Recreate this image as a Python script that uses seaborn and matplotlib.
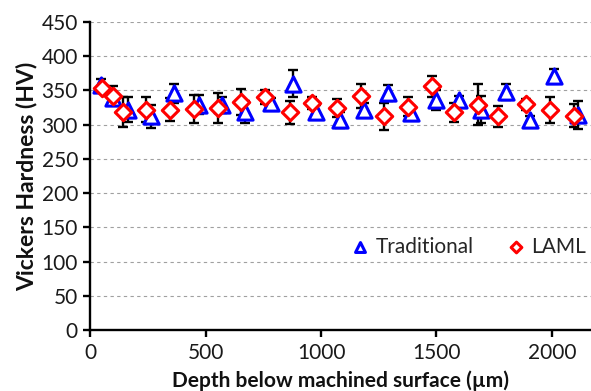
import numpy as np
import pandas as pd
import seaborn as sns
import matplotlib.pyplot as plt

# Data
trad_depth = [48, 96, 162, 264, 361, 470, 570, 672, 781, 878, 980, 1081, 1187, 1288, 1390, 1496, 1597, 1694, 1800, 1904, 2009, 2114]
trad_hv = [358, 339, 322, 312, 346, 329, 329, 318, 331, 360, 319, 307, 322, 346, 317, 336, 336, 322, 348, 307, 371, 314]
trad_err = [8, 8, 18, 17, 14, 14, 12, 16, 8, 20, 10, 12, 10, 12, 10, 15, 6, 20, 12, 6, 10, 21]

laml_depth = [49, 100, 143, 241, 346, 448, 553, 654, 757, 864, 962, 1071, 1172, 1274, 1375, 1480, 1578, 1680, 1768, 1887, 1991, 2096]
laml_hv = [354, 342, 318, 322, 322, 323, 324, 333, 340, 318, 332, 324, 342, 312, 326, 356, 318, 329, 312, 330, 321, 313]
laml_err = [6, 14, 22, 18, 17, 20, 22, 19, 10, 17, 9, 13, 18, 20, 14, 15, 14, 30, 15, 8, 19, 17]

trad = pd.DataFrame({'depth': trad_depth, 'hv': trad_hv, 'err': trad_err})
laml = pd.DataFrame({'depth': laml_depth, 'hv': laml_hv, 'err': laml_err})

sns.set_theme(style="white")
plt.rcParams['font.family'] = ['Lato', 'DejaVu Sans']

fig = plt.figure(figsize=(5.91, 3.91), dpi=100)
ax = fig.add_axes([0.153, 0.156, 0.847, 0.788])

# error bars first, markers on top
ax.errorbar(trad['depth'], trad['hv'], yerr=trad['err'], fmt='none',
            ecolor='black', elinewidth=1.7, capsize=3.5, capthick=1.7, zorder=2)
ax.errorbar(laml['depth'], laml['hv'], yerr=laml['err'], fmt='none',
            ecolor='black', elinewidth=1.7, capsize=3.5, capthick=1.7, zorder=2)

sns.scatterplot(data=trad, x='depth', y='hv', marker='^', s=120,
                facecolor='white', edgecolor='#0000ff', linewidth=2.2,
                label='Traditional', ax=ax, zorder=3)
sns.scatterplot(data=laml, x='depth', y='hv', marker='D', s=70,
                facecolor='white', edgecolor='#ff0000', linewidth=2.2,
                label='LAML', ax=ax, zorder=4)

ax.set_xlim(0, 2170)
ax.set_ylim(0, 450)
ax.set_xticks(range(0, 2001, 500))
ax.set_yticks(range(0, 451, 50))
ax.yaxis.grid(True, linestyle=(0, (3, 3)), color='#a0a0a0', linewidth=0.8)
ax.set_axisbelow(True)

for side in ['top', 'right']:
    ax.spines[side].set_visible(False)
for side in ['left', 'bottom']:
    ax.spines[side].set_color('black')
    ax.spines[side].set_linewidth(1.7)

ax.tick_params(axis='both', direction='out', length=5, width=1.7,
               color='black', labelsize=15, labelcolor='#1a1a1a',
               left=True, bottom=True, pad=4)

ax.set_xlabel('Depth below machined surface (µm)', fontsize=15,
              fontweight='bold', labelpad=6, color='#111111')
ax.set_ylabel('Vickers Hardness (HV)', fontsize=16.5, fontweight='bold',
              labelpad=3, color='#111111')

ax.legend(loc='center right', bbox_to_anchor=(1.028, 0.27), ncol=2,
          frameon=False, fontsize=15, handlelength=0.8, handletextpad=0.35,
          columnspacing=1.6, markerscale=0.65)

plt.savefig('out.png', dpi=100)
